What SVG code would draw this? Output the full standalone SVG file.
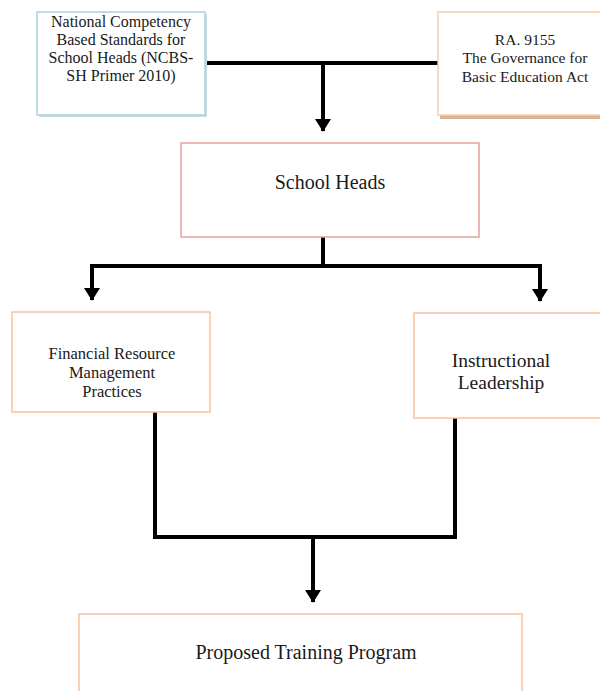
<svg xmlns="http://www.w3.org/2000/svg" width="600" height="691" viewBox="0 0 600 691">
<style>
.t{font-family:"Liberation Serif","Times New Roman",serif;fill:#1a1a1a;text-anchor:middle}
.box{fill:#fff;stroke-width:1.5}
.c{fill:none;stroke:#000;stroke-width:4}
</style>
<defs>
<marker id="ah" markerWidth="4" markerHeight="4" refX="3" refY="2" orient="auto" markerUnits="strokeWidth">
<path d="M0,0 L3.2,2 L0,4 Z" fill="#000"/>
</marker>
</defs>
<rect width="600" height="691" fill="#fff"/>
<g id="connectors">
<path class="c" d="M205,63 H438"/>
<path class="c" d="M323,63 V131" marker-end="url(#ah)"/>
<path class="c" d="M323,237 V266"/>
<path class="c" d="M92,266 H540"/>
<path class="c" d="M92,264 V300" marker-end="url(#ah)"/>
<path class="c" d="M540,264 V301" marker-end="url(#ah)"/>
<path class="c" d="M155,412 V537 H455 V418"/>
<path class="c" d="M313,537 V602" marker-end="url(#ah)"/>
</g>
<g id="ncbs">
<rect x="39" y="14" width="168" height="103" fill="#c9dde3"/>
<rect class="box" x="37" y="12" width="168" height="103" stroke="#a9d3de"/>
<text class="t" font-size="16"><tspan x="121" y="27">National Competency</tspan><tspan x="121" y="45">Based Standards for</tspan><tspan x="121" y="63">School Heads (NCBS-</tspan><tspan x="121" y="81">SH Primer 2010)</tspan></text>
</g>
<g id="ra9155">
<rect x="440" y="14" width="162" height="105" fill="#d8b496"/>
<rect class="box" x="438" y="12" width="164" height="103" stroke="#f9cfa8"/>
<text class="t" font-size="15.5"><tspan x="525" y="45">RA. 9155</tspan><tspan x="525" y="63">The Governance for</tspan><tspan x="525" y="82">Basic Education Act</tspan></text>
</g>
<g id="school-heads">
<rect class="box" x="181" y="143" width="298" height="94" stroke="#e4a0a0"/>
<text class="t" x="330" y="189" font-size="20">School Heads</text>
</g>
<g id="financial">
<rect class="box" x="12" y="312" width="198" height="100" stroke="#f9c49b"/>
<text class="t" font-size="16.5"><tspan x="112" y="359">Financial Resource</tspan><tspan x="112" y="378">Management</tspan><tspan x="112" y="397">Practices</tspan></text>
</g>
<g id="instructional">
<rect class="box" x="414" y="313" width="190" height="105" stroke="#f9c49b"/>
<text class="t" font-size="19.5"><tspan x="501" y="367">Instructional</tspan><tspan x="501" y="389">Leadership</tspan></text>
</g>
<g id="proposed">
<rect class="box" x="79" y="614" width="443" height="90" stroke="#f9c49b"/>
<text class="t" x="306" y="659" font-size="20">Proposed Training Program</text>
</g>
</svg>
